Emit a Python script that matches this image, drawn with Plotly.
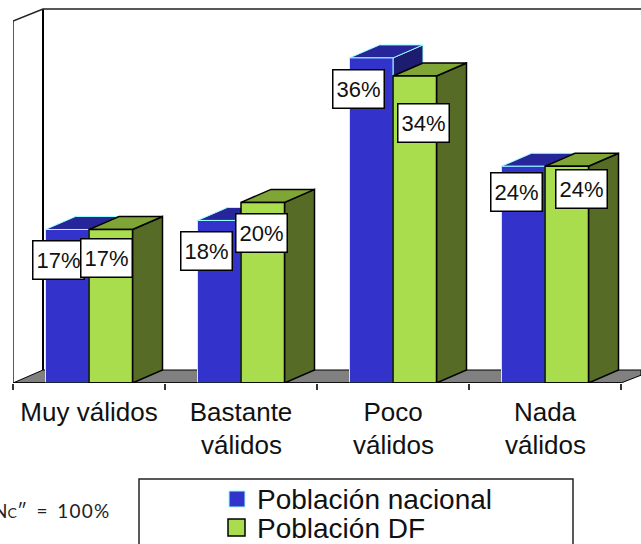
import plotly.graph_objects as go

categories_line1 = ["Muy válidos", "Bastante", "Poco", "Nada"]
categories_line2 = ["", "válidos", "válidos", "válidos"]
series_names = ["Población nacional", "Población DF"]
nacional = [17, 18, 36, 24]
df = [17, 20, 34, 24]

W, H = 641, 544
PX_X = 152.0          # pixels per category
PX_Y = 9.03           # pixels per percent
X0 = 13               # plot left
BASE = 383            # baseline pixel
BW = 43.5 / PX_X      # bar width (category units)
DX = 30 / PX_X        # 3-D depth
DY = 13 / PX_Y
xr = [-0.5, -0.5 + (W - X0) / PX_X]
yr = [0, BASE / PX_Y]

BLUE = dict(front="#3333cc", top="#26269a", side="#1c1c70", edge="#99ffff", lw=1)
GREEN = dict(front="#aadd4d", top="#7fa536", side="#556b26", edge="#000000", lw=1.5)


def px(x):
    return (x - X0) / (W - X0)


def py(y):
    return (BASE - y) / BASE


fig = go.Figure()


def poly(xs, ys, fill, line, lw=1.5):
    fig.add_trace(go.Scatter(x=xs, y=ys, mode="lines", fill="toself", fillcolor=fill,
                             line=dict(color=line, width=lw), showlegend=False,
                             hoverinfo="skip", cliponaxis=False))


def polyline(xs, ys, color, lw):
    fig.add_trace(go.Scatter(x=xs, y=ys, mode="lines", line=dict(color=color, width=lw),
                             showlegend=False, hoverinfo="skip", cliponaxis=False))


# floor and walls
poly([xr[0], xr[0] + DX, xr[1], xr[1], 3.5, xr[0]], [0, DY, DY, DY * 0.6, 0, 0], "#808080", "#000000", 1)
polyline([xr[0] + DX, xr[0] + DX], [DY, yr[1] - 9 / PX_Y], "#000000", 2)
polyline([xr[0], xr[0]], [0, yr[1] - 21 / PX_Y], "#222222", 1.5)
polyline([xr[0], xr[0] + DX, xr[1]], [yr[1] - 21 / PX_Y, yr[1] - 9 / PX_Y, yr[1] - 9 / PX_Y], "#222222", 1.5)


def bar3d(i, v, offset, c):
    l, r = i + offset, i + offset + BW
    poly([r, r + DX, r + DX, r, r], [0, DY, v + DY, v, 0], c["side"], c["edge"], c["lw"])
    poly([l, l + DX, r + DX, r, l], [v, v + DY, v + DY, v, v], c["top"], c["edge"], c["lw"])
    poly([l, l, r, r, l], [0, v, v, 0, 0], c["front"], c["edge"], c["lw"])


for i, (a, b) in enumerate(zip(nacional, df)):
    bar3d(i, a, -BW, BLUE)
    bar3d(i, b, 0, GREEN)

polyline([xr[0], 3.5], [0, 0], "#000000", 1.5)

# value labels: hand-placed boxes as in the source (pixel offsets from each bar's top centre)
offs_nac = [(-9, 31), (-13, 30.5), (-12.5, 31), (-6.5, 25.5)]
offs_df = [(-4, 28.5), (-1, 30.5), (8.5, 47.5), (15, 23)]
anns = []
for vals, offs, shift in [(nacional, offs_nac, -BW / 2), (df, offs_df, BW / 2)]:
    for i, (v, (ox, oy)) in enumerate(zip(vals, offs)):
        anns.append(dict(x=i + shift, y=v, xref="x", yref="y", text=f"{v}%", showarrow=False,
                         xshift=ox, yshift=-oy, width=50, height=37, align="center", valign="middle",
                         bgcolor="#ffffff", bordercolor="#000000", borderwidth=1.5, borderpad=0,
                         font=dict(family="Liberation Sans", size=22, color="#111111")))
# second line of the category labels
for i, t in enumerate(categories_line2):
    if t:
        anns.append(dict(x=i, y=0, xref="x", yref="y", text=t, showarrow=False, yshift=-62,
                         yanchor="middle", font=dict(family="Liberation Sans", size=26, color="#111111")))
# sample-size note, clipped by the page's left edge
anns.append(dict(x=px(111), y=py(511), xref="paper", yref="paper", xanchor="right", yanchor="middle",
                 text='N<span style="font-size:14px">C</span>″\u00a0\u00a0=\u00a0\u00a01\u200a0\u200a0\u200a%',
                 showarrow=False, font=dict(family="Lato", size=19, color="#222222")))
# legend labels
for name, y in zip(series_names, [499, 528]):
    anns.append(dict(x=px(254.5), y=py(y), xref="paper", yref="paper", xanchor="left", yanchor="middle",
                     text=name, showarrow=False,
                     font=dict(family="Liberation Sans", size=28, color="#111111")))

shapes = [
    dict(type="rect", xref="paper", yref="paper", x0=px(139), x1=px(573), y0=py(560), y1=py(479),
         line=dict(color="#222222", width=1.5), fillcolor="rgba(0,0,0,0)"),
    dict(type="rect", xref="paper", yref="paper", x0=px(229), x1=px(245), y0=py(507), y1=py(491),
         line=dict(color="#99ffff", width=1), fillcolor=BLUE["front"]),
    dict(type="rect", xref="paper", yref="paper", x0=px(228), x1=px(245), y0=py(536), y1=py(519),
         line=dict(color="#000000", width=1.5), fillcolor=GREEN["front"]),
]

fig.update_layout(
    width=W, height=H, margin=dict(l=X0, r=0, t=0, b=H - BASE, autoexpand=False), autosize=False,
    plot_bgcolor="#ffffff", paper_bgcolor="#ffffff",
    annotations=anns, shapes=shapes, showlegend=False,
    xaxis=dict(range=xr, tickmode="array", tickvals=list(range(4)), ticktext=categories_line1,
               ticks="", showgrid=False, zeroline=False, showline=False, ticklabelstandoff=11,
               tickfont=dict(family="Liberation Sans", size=26, color="#111111"),
               minor=dict(tickmode="array", tickvals=[-0.5, 0.5, 1.5, 2.5, 3.5], ticks="outside",
                          ticklen=6, tickwidth=1.5, tickcolor="#333333", showgrid=False)),
    yaxis=dict(range=yr, visible=False, showgrid=False, zeroline=False),
)
fig.write_html("out.html", config={"displayModeBar": False},
               post_script="document.body.style.margin='0';")
